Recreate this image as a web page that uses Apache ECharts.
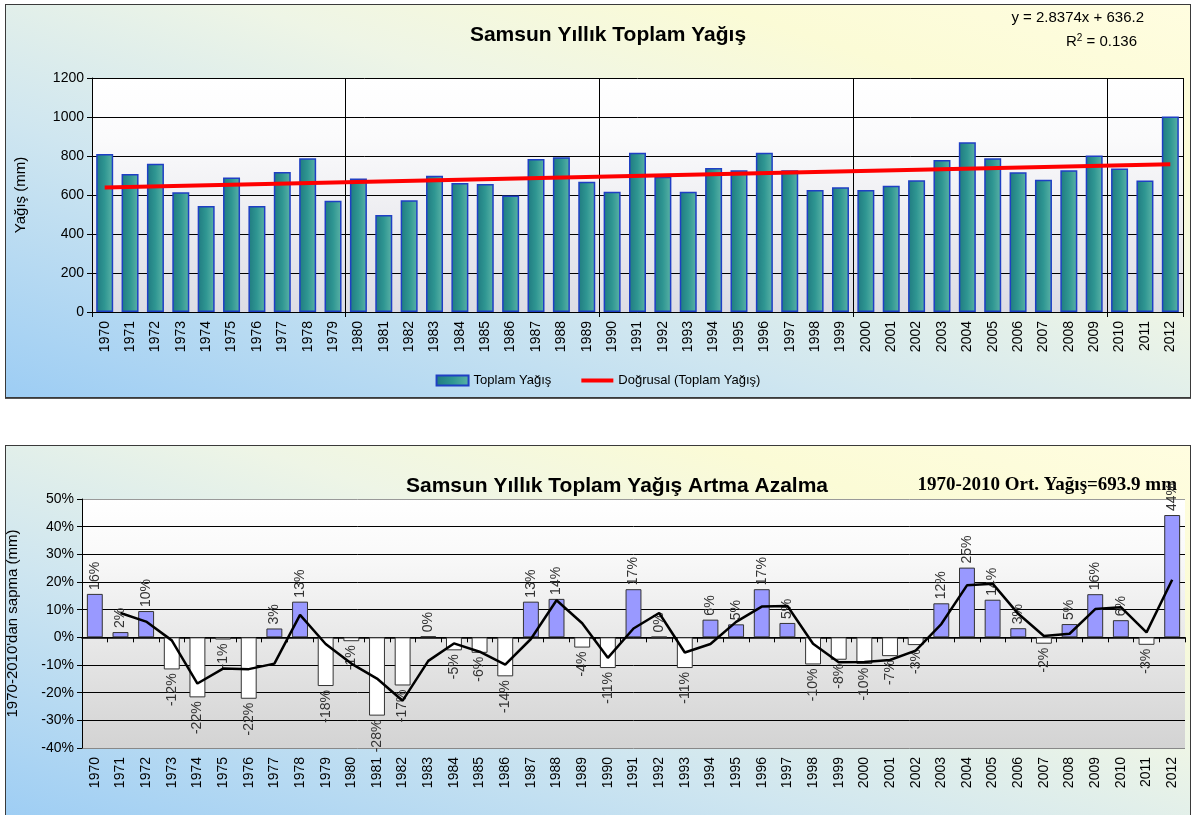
<!DOCTYPE html>
<html>
<head>
<meta charset="utf-8">
<script src="https://cdn.jsdelivr.net/npm/echarts@6/dist/echarts.min.js"></script>
<style>
  html, body { margin:0; padding:0; width:1194px; height:815px; overflow:hidden; background:#ffffff; }
  .panel { position:absolute; border:1px solid #3a3a3a; box-sizing:border-box;
    background: linear-gradient(to top right, #9dcdf4 0%, #cfe6f0 35%, #eef5e6 60%, #fbfbd6 80%, #fffde0 100%); }
  #p1 { left:5px; top:4px; width:1186px; height:394px; box-shadow: 0 1px 0 #555; }
  #p2 { left:5px; top:445px; width:1186px; height:380px; }
  .chart { position:absolute; left:0; top:0; width:1184px; }
  #c1 { height:392px; }
  #c2 { height:378px; }
</style>
</head>
<body>
<div class="panel" id="p1"><div class="chart" id="c1"></div></div>
<div class="panel" id="p2"><div class="chart" id="c2"></div></div>
<script>
// ---------- DATA ----------
const years = ['1970','1971','1972','1973','1974','1975','1976','1977','1978','1979',
  '1980','1981','1982','1983','1984','1985','1986','1987','1988','1989',
  '1990','1991','1992','1993','1994','1995','1996','1997','1998','1999',
  '2000','2001','2002','2003','2004','2005','2006','2007','2008','2009',
  '2010','2011','2012'];

// Annual total precipitation (mm)
const totalRain = [810, 708, 760, 614, 543, 690, 543, 718, 788, 570,
  684, 497, 573, 699, 661, 656, 597, 784, 793, 668,
  617, 817, 694, 617, 739, 727, 817, 727, 626, 640,
  626, 647, 676, 779, 871, 788, 717, 678, 727, 803,
  736, 675, 1003];

// Linear trend endpoints (y = 2.8374x + 636.2)
const trendStart = 639.0;
const trendEnd = 758.2;

// Deviation from 1970-2010 mean (%)
const deviation = [15.7, 1.9, 9.5, -11.6, -21.7, -0.8, -22.2, 3.2, 12.9, -17.6,
  -1.4, -28.3, -17.4, 0.4, -4.7, -5.6, -14.1, 12.9, 13.9, -3.7,
  -11.1, 17.4, 0.2, -11.1, 6.4, 4.7, 17.4, 5.2, -9.8, -8.1,
  -9.6, -6.8, -2.8, 12.3, 25.2, 13.6, 3.3, -2.3, 4.8, 15.6,
  6.2, -2.7, 44.2];

// Moving-average line of the deviation (%)
const devLine = [null, 8.8, 5.7, -1.1, -16.7, -11.3, -11.5, -9.5, 8.1, -2.4,
  -9.5, -14.9, -22.9, -8.5, -2.2, -5.2, -9.9, -0.6, 13.4, 5.1,
  -7.4, 3.2, 8.8, -5.5, -2.4, 5.6, 11.1, 11.3, -2.3, -9.0,
  -8.9, -8.2, -4.8, 4.8, 18.8, 19.4, 8.5, 0.5, 1.3, 10.2,
  10.9, 1.8, 20.8];

const yTicksTop = [0, 200, 400, 600, 800, 1000, 1200];
const yTicksBottom = [-40, -30, -20, -10, 0, 10, 20, 30, 40, 50];

// ---------- CHART 1 ----------
const FONT = '"Liberation Sans", Arial, sans-serif';
const c1 = echarts.init(document.getElementById('c1'));
c1.setOption({
  animation: false,
  textStyle: { fontFamily: FONT },
  title: {
    text: 'Samsun Yıllık Toplam Yağış', left: 597, top: 15, textAlign: 'center',
    textStyle: { fontSize: 21, fontWeight: 'bold', color: '#000', fontFamily: FONT }
  },
  graphic: [
    { type: 'text', right: 46, top: 5, style: { text: 'y = 2.8374x + 636.2', font: '15px ' + FONT, fill: '#000' } },
    { type: 'text', right: 53, top: 28, style: {
        text: 'R{s|2} = 0.136', font: '15px ' + FONT, fill: '#000',
        rich: { s: { fontSize: 10, verticalAlign: 'top', padding: [0,0,7,0], fontFamily: FONT } } } }
  ],
  legend: {
    bottom: 5, left: 'center', itemWidth: 32, itemHeight: 10, itemGap: 30,
    textStyle: { fontSize: 13, color: '#000', fontFamily: FONT },
    data: [{ name: 'Toplam Yağış', icon: 'rect' },
           { name: 'Doğrusal (Toplam Yağış)', icon: 'path://M0 0H40V5H0Z' }]
  },
  grid: {
    left: 86, top: 73, right: 7, bottom: 85, show: true, borderWidth: 0,
    outerBoundsMode: 'none', containLabel: false,
    backgroundColor: { type: 'linear', x: 0, y: 0, x2: 0, y2: 1,
      colorStops: [{ offset: 0, color: '#ffffff' }, { offset: 0.25, color: '#fbfbfc' }, { offset: 1, color: '#dcdce4' }] }
  },
  xAxis: {
    type: 'category', data: years, boundaryGap: true,
    axisLine: { lineStyle: { color: '#000', width: 1 } },
    axisTick: { show: true, length: 5, interval: (i) => i % 10 === 0, lineStyle: { color: '#000' } },
    splitLine: { show: true, interval: (i) => i % 10 === 0, lineStyle: { color: '#000', width: 1 } },
    axisLabel: { rotate: 90, interval: 0, fontSize: 14, color: '#000', margin: 9, fontFamily: FONT }
  },
  yAxis: {
    type: 'value', min: yTicksTop[0], max: yTicksTop[yTicksTop.length - 1], interval: 200,
    name: 'Yağış (mm)', nameLocation: 'middle', nameGap: 64,
    nameTextStyle: { fontSize: 15, color: '#000', fontFamily: FONT },
    axisLine: { show: true, lineStyle: { color: '#000' } },
    axisTick: { show: true, length: 5, lineStyle: { color: '#000' } },
    splitLine: { show: true, lineStyle: { color: '#000', width: 1 } },
    axisLabel: { fontSize: 14, color: '#000', margin: 8, fontFamily: FONT, formatter: v => String(v) }
  },
  series: [
    {
      name: 'Toplam Yağış', type: 'bar', data: totalRain, barCategoryGap: '33%',
      itemStyle: {
        color: { type: 'linear', x: 0, y: 0, x2: 1, y2: 0,
          colorStops: [{ offset: 0, color: '#1f7a80' }, { offset: 0.5, color: '#2f9692' }, { offset: 1, color: '#5bb3a6' }] },
        borderColor: '#1f3fc4', borderWidth: 1.5
      }
    },
    {
      name: 'Doğrusal (Toplam Yağış)', type: 'line',
      data: [[years[0], trendStart], [years[years.length - 1], trendEnd]],
      symbol: 'none', showSymbol: false, lineStyle: { color: '#ff0000', width: 4 }, itemStyle: { color: '#ff0000' }, z: 5
    }
  ]
});

// ---------- CHART 2 ----------
const c2 = echarts.init(document.getElementById('c2'));
const devData = deviation.map(v => ({
  value: v,
  itemStyle: { color: v < 0 ? '#ffffff' : '#9999ff', borderColor: '#333', borderWidth: 1 },
  label: v < 0
    ? { position: 'bottom', align: 'right', distance: 4 }
    : { position: 'top', align: 'left', distance: 4 }
}));
c2.setOption({
  animation: false,
  textStyle: { fontFamily: FONT },
  title: {
    text: 'Samsun Yıllık Toplam Yağış Artma Azalma', left: 606, top: 25, textAlign: 'center',
    textStyle: { fontSize: 21, fontWeight: 'bold', color: '#000', fontFamily: FONT }
  },
  graphic: [
    { type: 'text', right: 13, top: 30, style: { text: '1970-2010 Ort. Yağış=693.9 mm', font: 'bold 19px "Liberation Serif", "Times New Roman", serif', fill: '#000' } }
  ],
  grid: {
    left: 76, top: 53, right: 5, bottom: 76, show: true, borderWidth: 0,
    outerBoundsMode: 'none', containLabel: false,
    backgroundColor: { type: 'linear', x: 0, y: 0, x2: 0, y2: 1,
      colorStops: [{ offset: 0, color: '#ffffff' }, { offset: 0.2, color: '#fafafa' }, { offset: 1, color: '#d3d3d3' }] }
  },
  xAxis: [
    {
      type: 'category', data: years, boundaryGap: true, position: 'bottom',
      axisLine: { onZero: true, lineStyle: { color: '#000', width: 1.5 } },
      axisTick: { show: true, length: 5, interval: 0, lineStyle: { color: '#000' } },
      splitLine: { show: false },
      axisLabel: { show: false }
    },
    {
      type: 'category', data: years, boundaryGap: true, position: 'bottom',
      axisLine: { show: false, onZero: false },
      axisTick: { show: false },
      splitLine: { show: false },
      axisLabel: { rotate: 90, interval: 0, fontSize: 14, color: '#000', margin: 9, fontFamily: FONT }
    }
  ],
  yAxis: {
    type: 'value', min: yTicksBottom[0], max: yTicksBottom[yTicksBottom.length - 1], interval: 10,
    name: "1970-2010'dan sapma (mm)", nameLocation: 'middle', nameGap: 62,
    nameTextStyle: { fontSize: 15, color: '#000', fontFamily: FONT },
    axisLine: { show: true, lineStyle: { color: '#000' } },
    axisTick: { show: true, length: 5, lineStyle: { color: '#000' } },
    splitLine: { show: true, lineStyle: { color: ['#888', '#000', '#000', '#000', '#000', '#000', '#000', '#000', '#000', '#999'], width: 1 } },
    axisLabel: { fontSize: 14, color: '#000', margin: 8, formatter: v => v + '%', fontFamily: FONT }
  },
  series: [
    {
      name: 'Sapma', type: 'bar', data: devData, barCategoryGap: '38%', xAxisIndex: 0,
      label: {
        show: true, rotate: 90, verticalAlign: 'middle', fontSize: 14, color: '#333', fontFamily: FONT,
        formatter: p => Math.round(p.value) + '%'
      }
    },
    {
      name: 'Ortalama', type: 'line', data: devLine, symbol: 'none', connectNulls: false, xAxisIndex: 0,
      lineStyle: { color: '#000', width: 2.5 }, z: 5
    }
  ]
});
</script>
</body>
</html>
